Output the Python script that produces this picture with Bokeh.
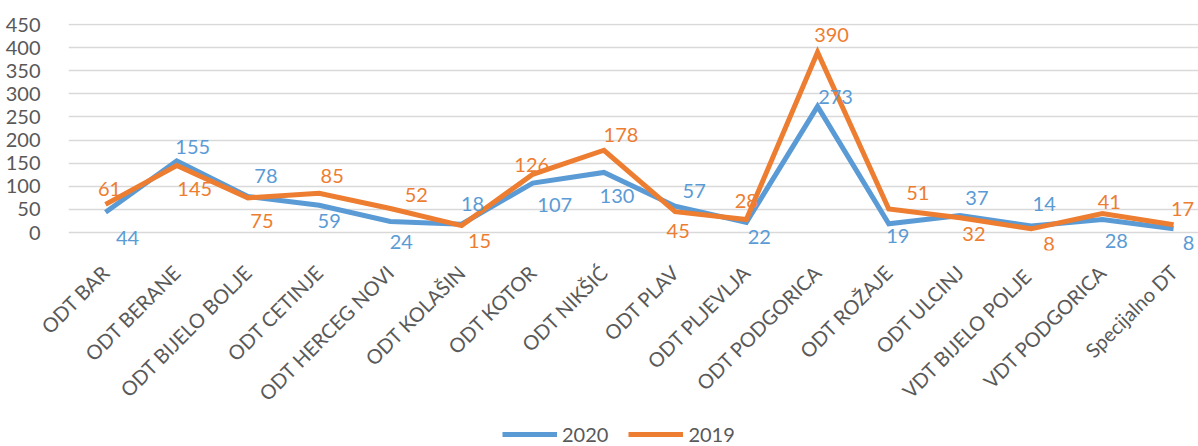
import math
from bokeh.plotting import figure
from bokeh.layouts import column
from bokeh.models import Range1d, FixedTicker, ColumnDataSource, LabelSet, Legend, LegendItem
from bokeh.core.properties import value
from bokeh.embed import file_html
from bokeh.resources import INLINE

categories = ["ODT BAR", "ODT BERANE", "ODT BIJELO BOLJE", "ODT CETINJE", "ODT HERCEG NOVI",
              "ODT KOLAŠIN", "ODT KOTOR", "ODT NIKŠIĆ", "ODT PLAV", "ODT PLJEVLJA",
              "ODT PODGORICA", "ODT ROŽAJE", "ODT ULCINJ", "VDT  BIJELO POLJE",
              "VDT PODGORICA", "Specijalno DT"]
values_2020 = [44, 155, 78, 59, 24, 18, 107, 130, 57, 22, 273, 19, 37, 14, 28, 8]
values_2019 = [61, 145, 75, 85, 52, 15, 126, 178, 45, 28, 390, 51, 32, 8, 41, 17]
y_ticks = [0, 50, 100, 150, 200, 250, 300, 350, 400, 450]
series_names = ["2020", "2019"]

# data-label placement (screen pixels: +x right, +y up)
dx_2020 = [22, 16, 18, 10, 11, 11, 22, 13, 19, 13, 18, 9, 17, 13, 14, 15]
dy_2020 = [-26, 14, 20, -16, -21, 20, -22, -24, 15, -15, 9, -12, 17, 22, -21, -14]
dx_2019 = [4, 18, 14, 13, 26, 18, -1, 17, 3, 0, 14, 29, 14, 18, 7, 9]
dy_2019 = [15, -24, -23, 17, 13, -15, 9, 15, -19, 19, 17, 16, -16, -15, 12, 16]

BLUE = "#5B9BD5"
ORANGE = "#ED7D31"
GRAY = "#595959"
FONT = "Lato"

xs = list(range(len(categories)))

p = figure(width=1198, height=420,
           x_range=Range1d(-0.52, 15.35), y_range=Range1d(-38.9, 452.2),
           output_backend="svg", toolbar_location=None,
           min_border_left=68, min_border_top=23, min_border_bottom=170, min_border_right=0)
p.outline_line_color = None
p.background_fill_color = "white"
p.border_fill_color = "white"

p.xgrid.visible = False
p.ygrid.ticker = FixedTicker(ticks=y_ticks)
p.ygrid.grid_line_color = "#D9D9D9"
p.ygrid.grid_line_width = 1.5

p.yaxis.ticker = FixedTicker(ticks=y_ticks)
p.yaxis.axis_line_color = None
p.yaxis.major_tick_line_color = None
p.yaxis.minor_tick_line_color = None
p.yaxis.major_label_text_font = FONT
p.yaxis.major_label_text_font_size = "20px"
p.yaxis.major_label_text_color = GRAY
p.yaxis.major_label_standoff = 22

p.xaxis.ticker = FixedTicker(ticks=xs)
p.xaxis.major_label_overrides = {i: c for i, c in enumerate(categories)}
p.xaxis.major_label_orientation = math.pi / 4
p.xaxis.axis_line_color = None
p.xaxis.major_tick_line_color = None
p.xaxis.minor_tick_line_color = None
p.xaxis.major_label_text_font = FONT
p.xaxis.major_label_text_font_size = "20px"
p.xaxis.major_label_text_color = GRAY
p.xaxis.major_label_standoff = 12

src20 = ColumnDataSource(dict(x=xs, y=values_2020, t=[str(v) for v in values_2020], dx=dx_2020, dy=dy_2020))
src19 = ColumnDataSource(dict(x=xs, y=values_2019, t=[str(v) for v in values_2019], dx=dx_2019, dy=dy_2019))

r20 = p.line("x", "y", source=src20, line_color=BLUE, line_width=5, line_join="miter")
r19 = p.line("x", "y", source=src19, line_color=ORANGE, line_width=5, line_join="miter")

for src, col in ((src20, BLUE), (src19, ORANGE)):
    lab = LabelSet(x="x", y="y", text="t", source=src, x_offset="dx", y_offset="dy",
                   text_align="center", text_baseline="middle",
                   text_font=value(FONT), text_font_size="20px", text_color=col)
    p.add_layout(lab)

# legend strip (frame is aligned with the main plot's frame, which starts 68px in)
lg = figure(width=1198, height=26, x_range=Range1d(0, 1130), y_range=Range1d(0, 26),
            output_backend="svg", toolbar_location=None,
            min_border_left=0, min_border_right=0, min_border_top=0, min_border_bottom=0)
lg.axis.visible = False
lg.grid.visible = False
lg.outline_line_color = None
# legend proxies, kept out of view
l20 = lg.line(x=[-10, -5], y=[-10, -10], line_color=BLUE, line_width=5)
l19 = lg.line(x=[-10, -5], y=[-10, -10], line_color=ORANGE, line_width=5)
legend = Legend(items=[LegendItem(label=series_names[0], renderers=[l20]),
                       LegendItem(label=series_names[1], renderers=[l19])],
                location=(434, 0), orientation="horizontal",
                glyph_width=55, glyph_height=20, label_height=20, label_standoff=5,
                spacing=20, padding=0, margin=0,
                label_text_font=FONT, label_text_font_size="20px", label_text_color=GRAY,
                background_fill_alpha=0, border_line_color=None)
lg.add_layout(legend)

open("out.html", "w").write(file_html(column(p, lg, spacing=0), INLINE))
